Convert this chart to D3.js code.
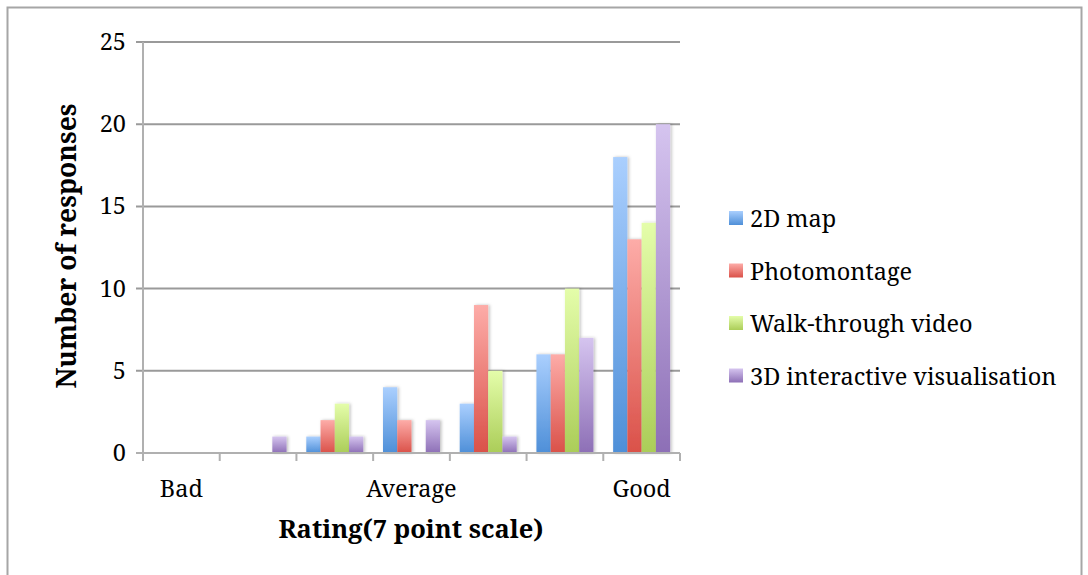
<!DOCTYPE html>
<html><head><meta charset="utf-8">
<script src="https://cdn.jsdelivr.net/npm/d3@7"></script>
<style>body{margin:0;background:#fff}svg{display:block}</style>
</head><body>
<svg id="chart" width="1088" height="575"></svg>
<script>
const categories = ["Bad","","","Average","","","Good"];
const seriesNames = ["2D map","Photomontage","Walk-through video","3D interactive visualisation"];
const map2D = [0,0,1,4,3,6,18];
const photomontage = [0,0,2,2,9,6,13];
const walkThrough = [0,0,3,0,5,10,14];
const interactive3D = [0,1,1,2,1,7,20];
const yTicks = [0,5,10,15,20,25];
const seriesValues = [map2D, photomontage, walkThrough, interactive3D];
const colors = [["#aacffe","#4e8fd8"],["#fdaca8","#da5149"],["#e4fdaa","#abcd58"],["#d5c4ef","#8d6fb6"]];

const font = "'Noto Serif', 'Liberation Serif', serif";
const svg = d3.select("#chart");
svg.append("rect").attr("x",7.5).attr("y",7.5).attr("width",1074).attr("height",580)
  .attr("fill","#fff").attr("stroke","#a6a6a6").attr("stroke-width",2);

const defs = svg.append("defs");
colors.forEach((c,i)=>{
  const g = defs.append("linearGradient").attr("id","g"+i).attr("x1",0).attr("y1",0).attr("x2",0).attr("y2",1);
  g.append("stop").attr("offset","0%").attr("stop-color",c[0]);
  g.append("stop").attr("offset","100%").attr("stop-color",c[1]);
});
const f = defs.append("filter").attr("id","sh").attr("x","-30%").attr("y","-10%").attr("width","160%").attr("height","120%");
f.append("feDropShadow").attr("dx",1.5).attr("dy",0).attr("stdDeviation",1.5).attr("flood-color","#000").attr("flood-opacity",0.25);

const L=143, R=680, T=42, B=453;
const x = d3.scaleBand().domain(d3.range(categories.length)).range([L,R]).paddingInner(0).paddingOuter(0);
const y = d3.scaleLinear().domain([0,25]).range([B,T]);
const groupW = 57;
const xs = d3.scaleBand().domain(d3.range(seriesNames.length)).range([0,groupW]);

// gridlines
svg.append("g").selectAll("line").data(yTicks.filter(d=>d>0)).join("line")
  .attr("x1",L-7).attr("x2",R).attr("y1",d=>y(d)).attr("y2",d=>y(d))
  .attr("stroke","#9a9a9a").attr("stroke-width",2);

// y axis
svg.append("line").attr("x1",L).attr("x2",L).attr("y1",T).attr("y2",B+1).attr("stroke","#b0b0b0").attr("stroke-width",2);
svg.append("line").attr("x1",L-7).attr("x2",L).attr("y1",B).attr("y2",B).attr("stroke","#b0b0b0").attr("stroke-width",2);
svg.append("g").selectAll("text").data(yTicks).join("text")
  .attr("x",126).attr("y",d=>y(d)+8).attr("text-anchor","end")
  .attr("font-family",font).attr("font-size",23.5).attr("fill","#000").text(d=>d);

// bars
seriesValues.forEach((vals,si)=>{
  svg.append("g").selectAll("rect").data(vals.map((v,i)=>({v,i}))).join("rect")
    .filter(d=>d.v>0)
    .attr("x",d=>x(d.i)+(x.bandwidth()-groupW)/2+xs(si))
    .attr("y",d=>y(d.v)).attr("width",xs.bandwidth())
    .attr("height",d=>B-y(d.v)).attr("fill","url(#g"+si+")").attr("filter","url(#sh)");
});

// x axis
svg.append("line").attr("x1",L).attr("x2",R).attr("y1",B).attr("y2",B).attr("stroke","#b0b0b0").attr("stroke-width",2);
svg.append("g").selectAll("line").data(d3.range(categories.length+1)).join("line")
  .attr("x1",d=>L+d*x.step()).attr("x2",d=>L+d*x.step()).attr("y1",B).attr("y2",B+8)
  .attr("stroke","#b0b0b0").attr("stroke-width",2);
svg.append("g").selectAll("text").data(categories).join("text")
  .attr("x",(d,i)=>x(i)+x.bandwidth()/2).attr("y",497).attr("text-anchor","middle")
  .attr("font-family",font).attr("font-size",23.5).attr("fill","#000").text(d=>d);

// titles
svg.append("text").attr("x",411).attr("y",538).attr("text-anchor","middle")
  .attr("font-family",font).attr("font-weight","bold").attr("font-size",25.5).text("Rating(7 point scale)");
svg.append("text").attr("transform","translate(76,246) rotate(-90)").attr("text-anchor","middle")
  .attr("font-family",font).attr("font-weight","bold").attr("font-size",26.5).text("Number of responses");

// legend
const leg = svg.append("g").selectAll("g").data(seriesNames).join("g")
  .attr("transform",(d,i)=>`translate(729,${211+i*52.5})`);
leg.append("rect").attr("width",14).attr("height",14).attr("fill",(d,i)=>"url(#g"+i+")");
leg.append("text").attr("x",21).attr("y",16).attr("font-family",font).attr("font-size",23.5).text(d=>d);
</script>
</body></html>
